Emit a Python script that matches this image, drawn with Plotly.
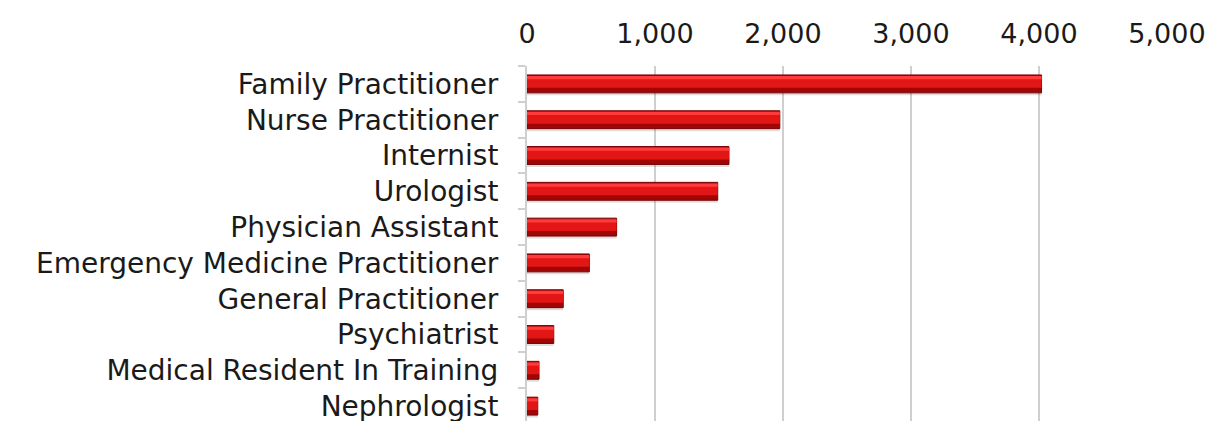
import plotly.graph_objects as go

specialties = [
    "Family Practitioner",
    "Nurse Practitioner",
    "Internist",
    "Urologist",
    "Physician Assistant",
    "Emergency Medicine Practitioner",
    "General Practitioner",
    "Psychiatrist",
    "Medical Resident In Training",
    "Nephrologist",
]
counts = [4020, 1975, 1578, 1490, 700, 487, 283, 209, 94, 84]

font_family = "'DejaVu Sans', sans-serif"

fig = go.Figure()

# soft shadow under each bar
fig.add_trace(go.Bar(
    y=specialties, x=counts, orientation="h",
    width=0.52, offset=-0.2,
    marker=dict(color="rgba(0,0,0,0.13)", line=dict(width=0)),
    hoverinfo="skip", showlegend=False,
))
# dark base of the bar
fig.add_trace(go.Bar(
    y=specialties, x=counts, orientation="h",
    width=0.5, offset=-0.25,
    marker=dict(color="#a00606", line=dict(color="#7a0303", width=1)),
    showlegend=False,
))
# bright red body
fig.add_trace(go.Bar(
    y=specialties, x=counts, orientation="h",
    width=0.3, offset=-0.19,
    marker=dict(color="#e31616", line=dict(width=0)),
    hoverinfo="skip", showlegend=False,
))
# top highlight
fig.add_trace(go.Bar(
    y=specialties, x=counts, orientation="h",
    width=0.09, offset=-0.22,
    marker=dict(color="#ff3b3b", line=dict(width=0)),
    hoverinfo="skip", showlegend=False,
))

fig.update_layout(
    width=1214, height=421,
    margin=dict(l=519, r=55, t=58, b=5),
    barmode="overlay",
    plot_bgcolor="white",
    paper_bgcolor="white",
    font=dict(family=font_family, size=28, color="#1a1a1a"),
)
fig.update_xaxes(
    side="top", range=[0, 5000], dtick=1000, tickformat=",",
    showgrid=True, gridcolor="#cfcfcf", gridwidth=2,
    zeroline=False, showline=False, ticks="",
    ticklabelstandoff=17, automargin=False,
    tickfont=dict(size=27, color="#1a1a1a"),
)
fig.update_yaxes(
    autorange="reversed", categoryorder="array", categoryarray=specialties,
    showline=True, linecolor="#cfcfcf", linewidth=2,
    ticks="outside", tickson="boundaries", ticklen=7, tickcolor="#cfcfcf", tickwidth=2,
    ticklabelstandoff=21, automargin=False,
    tickfont=dict(size=28, color="#1a1a1a"),
)

fig.write_html("out.html")
